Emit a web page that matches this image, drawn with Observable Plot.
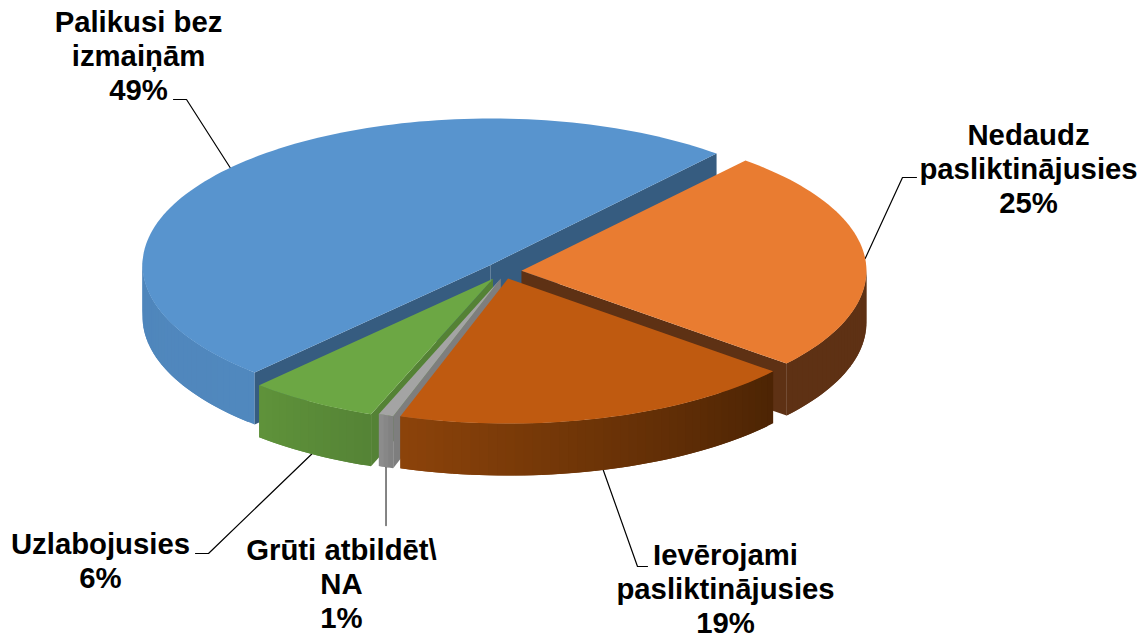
<!DOCTYPE html>
<html><head><meta charset="utf-8">
<script src="https://cdn.jsdelivr.net/npm/d3@7"></script>
<script src="https://cdn.jsdelivr.net/npm/@observablehq/plot@0.6"></script>
<style>html,body{margin:0;padding:0;background:#fff}svg{display:block}</style>
</head><body><div id="chart"></div>
<script>
// Data
const categories = ["Nedaudz\npasliktinājusies","Ievērojami\npasliktinājusies","Grūti atbildēt\\\nNA","Uzlabojusies","Palikusi bez\nizmaiņām"];
const shares = [24.8, 19, 0.7, 6.1, 49.4];
const percentLabels = [25, 19, 1, 6, 49];
// Style
const topColors = ["#E97C31","#BF5A10","#A4A4A4","#6CA744","#5894CE"];
const cutColors = ["#5E3114","#4C2404","#7E7E7E","#548235","#365C80"];
const wallFrom  = ["#5E3114","#4C2404","#808080","#558336","#5088BE"];
const wallTo    = ["#5E3114","#8C430A","#8E8E8E","#5F933A","#4D80B4"];
const drawOrder = [4,0,3,2,1];
// Geometry of the tilted pie
const startAngle = -49.5, depth = 52;
const radiusX = [345,345,345,345,348], radiusY = [145,145,145,145,146.4];
const centre = [501, 271], explode = 0.058;
const nudgeX = [0,1,6,2,4], nudgeY = [0,-1,-1,0,-1];
// Label layout
const labelX = [1028, 725, 341, 100, 138];
const labelY = [168, 588, 583, 560, 55];
const elbowX = [902, 637, null, 208, 186];
const elbowY = [177, 566, 525, 553, 99];
const endX   = [916, 647, null, 195, 173];

const total = d3.sum(shares);
const rad = a=>a*Math.PI/180;
let acc = startAngle;
const slices = shares.map((s,i)=>{
  const a0 = acc; acc += s/total*360; const a1 = acc;
  const mid = rad((a0+a1)/2);
  return {i,a0,a1,mid:(a0+a1)/2,rx:radiusX[i],ry:radiusY[i],
    cx:centre[0]+nudgeX[i]+explode*345*Math.cos(mid),cy:centre[1]+nudgeY[i]+explode*145*Math.sin(mid)};
});
const rim = (s,a,d=0)=>[s.cx+s.rx*Math.cos(rad(a)), s.cy+s.ry*Math.sin(rad(a))+d];

const rows = []; let id = 0;
const poly = (pts,fill)=>{id++;pts.forEach(p=>rows.push({id,fill,x:p[0],y:p[1]}));};
for (const k of drawOrder) {
  const s = slices[k], n = Math.max(3,Math.ceil((s.a1-s.a0)/1.5));
  const angs = d3.range(n+1).map(j=>s.a0+(s.a1-s.a0)*j/n);
  const apex = [s.cx,s.cy], apexB=[s.cx,s.cy+depth];
  // outer wall, front part only, in overlapping strips
  const col = d3.interpolateRgb(wallFrom[k],wallTo[k]);
  for (let j=0;j<n;j++) {
    if (Math.sin(rad(angs[j+1]))<-0.03 && Math.sin(rad(angs[j]))<-0.03) continue;
    const far = angs[Math.min(j+2,n)];
    poly([rim(s,angs[j]),rim(s,far),rim(s,far,depth),rim(s,angs[j],depth)],col((j+.5)/n));
  }
  // cut faces that look towards the viewer
  if (Math.sin(rad(s.a0-90))>0) poly([apex,rim(s,s.a0),rim(s,s.a0,depth),apexB],cutColors[k]);
  if (Math.sin(rad(s.a1+90))>0) poly([apex,rim(s,s.a1),rim(s,s.a1,depth),apexB],cutColors[k]);
  // top
  poly([apex,...angs.map(a=>rim(s,a))],topColors[k]);
}
const leaders = [];
slices.forEach(s=>{
  const front = Math.sin(rad(s.mid))>0.4;
  const p = rim(s,s.mid,front?depth:0);
  const ex = elbowX[s.i] ?? p[0], tx = endX[s.i] ?? p[0];
  leaders.push({id:s.i,x:p[0],y:p[1]},{id:s.i,x:ex,y:elbowY[s.i]},{id:s.i,x:tx,y:elbowY[s.i]});
});
const labels = categories.map((c,i)=>({t:c+"\n"+percentLabels[i]+"%",x:labelX[i],y:labelY[i]}));

const plot = Plot.plot({
  width:1144,height:637,margin:0,
  x:{domain:[0,1144],range:[0,1144],axis:null},
  y:{domain:[0,637],range:[0,637],axis:null},
  color:{type:"identity"},
  marks:[
    Plot.line(leaders,{x:"x",y:"y",z:"id",stroke:d=>d.id===2?"#666":"#000",strokeWidth:d=>d.id===2?1.6:1.2}),
    Plot.line(rows,{x:"x",y:"y",z:"id",fill:"fill"}),
    Plot.text(labels,{x:"x",y:"y",text:"t",fontFamily:"Liberation Sans",fontWeight:"bold",fontSize:29.3,lineHeight:1.16,fill:"#000",textAnchor:"middle"})
  ]
});
document.getElementById("chart").appendChild(plot);
</script></body></html>
